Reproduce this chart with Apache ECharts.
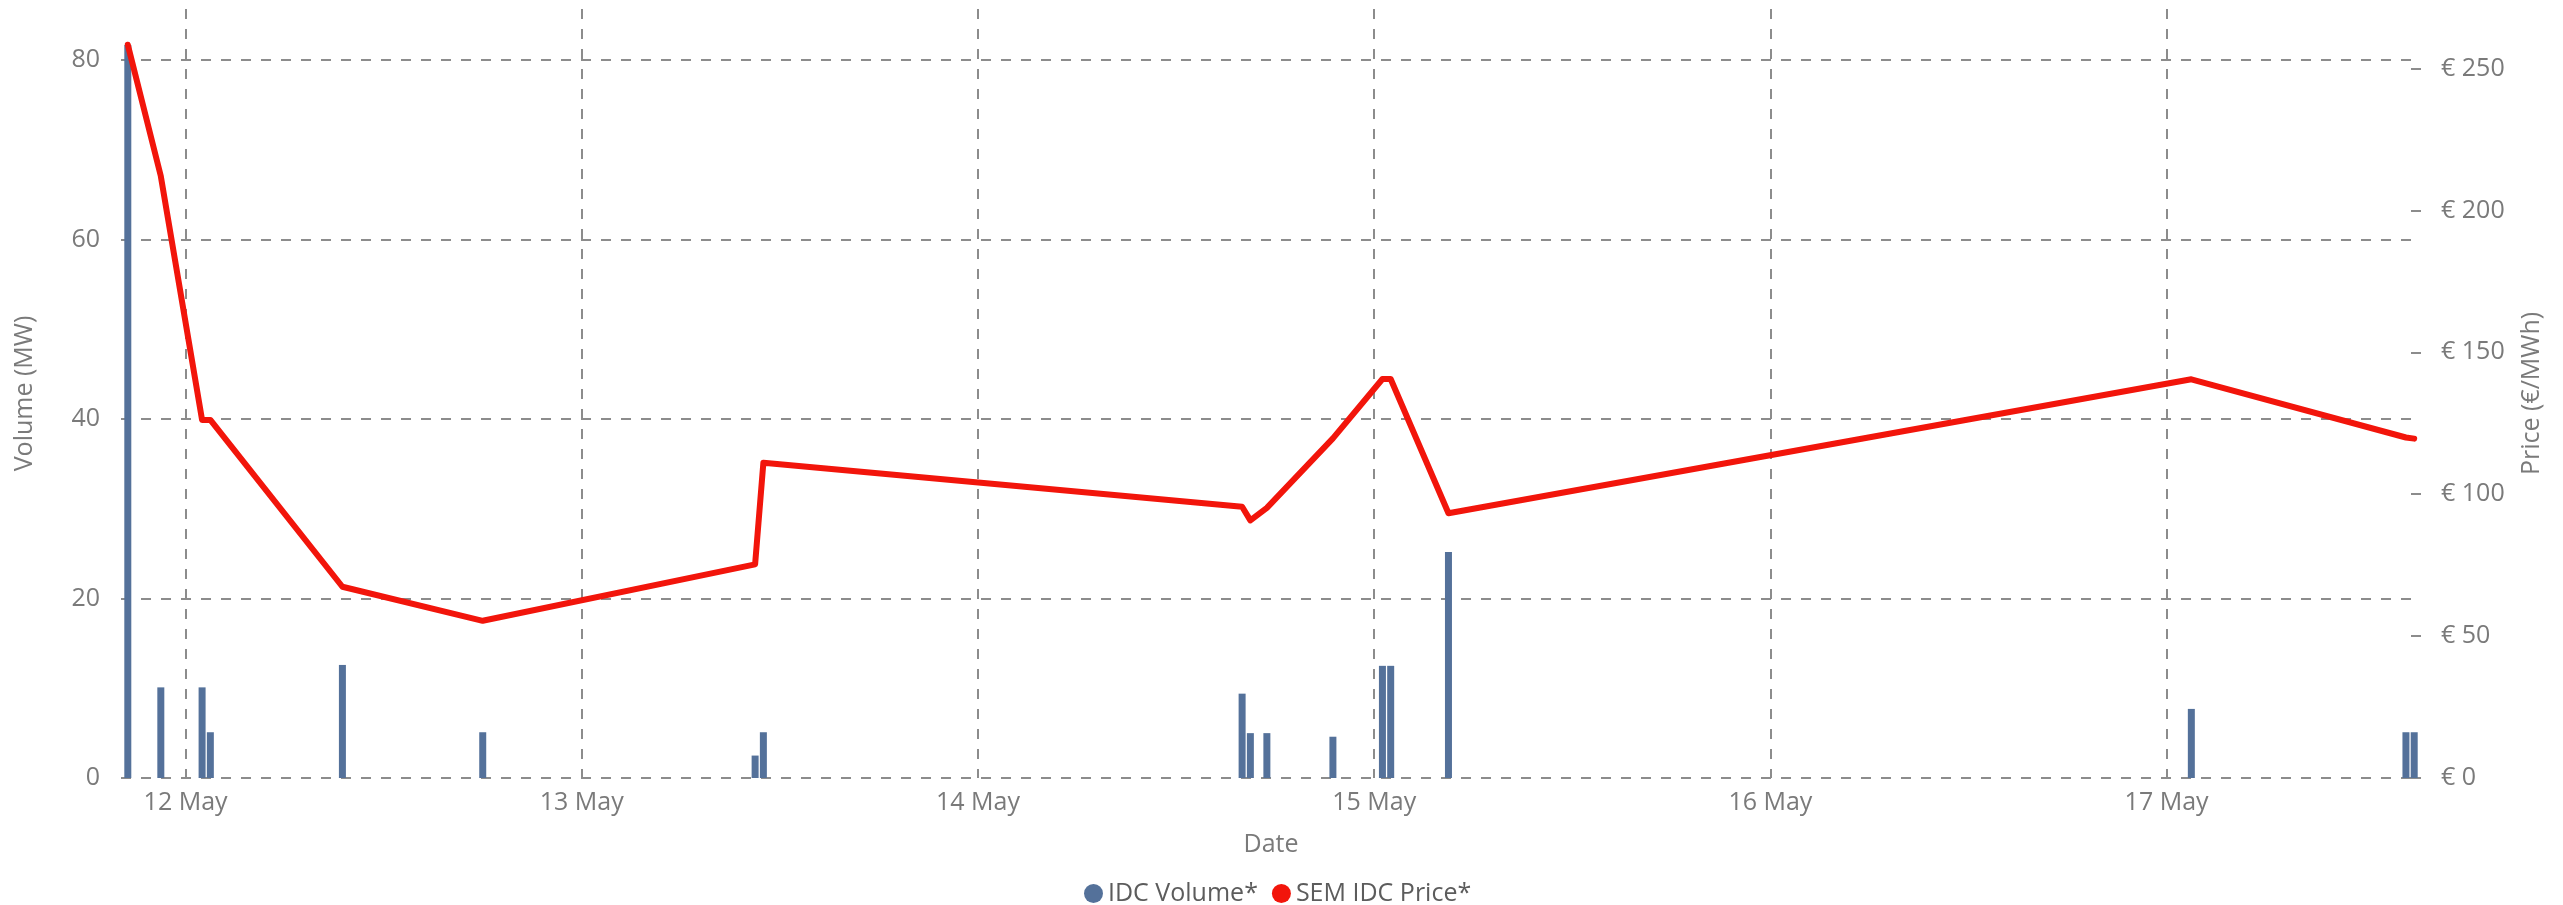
<!DOCTYPE html>
<html>
<head>
<meta charset="utf-8">
<script src="https://cdn.jsdelivr.net/npm/echarts@6/dist/echarts.min.js"></script>
<style>
  html, body { margin: 0; padding: 0; background: #fff; }
  #chart { width: 2563px; height: 905px; }
</style>
</head>
<body>
<div id="chart"></div>
<script>
// half-hourly trades
const times = [
  "2024-05-11 20:30", "2024-05-11 22:30", "2024-05-12 01:00", "2024-05-12 01:30",
  "2024-05-12 09:30", "2024-05-12 18:00", "2024-05-13 10:30", "2024-05-13 11:00",
  "2024-05-14 16:00", "2024-05-14 16:30", "2024-05-14 17:30", "2024-05-14 21:30",
  "2024-05-15 00:30", "2024-05-15 01:00", "2024-05-15 04:30", "2024-05-17 01:30",
  "2024-05-17 14:30", "2024-05-17 15:00"
];
const volume = [81.7, 10.1, 10.1, 5.1, 12.6, 5.1, 2.5, 5.1, 9.4, 5.0, 5.0, 4.6, 12.5, 12.5, 25.2, 7.7, 5.1, 5.1];
const price = [258.4, 212.1, 126.2, 126.2, 67.4, 55.4, 75.3, 111.1, 95.6, 90.8, 95.2, 119.7, 140.6, 140.6, 93.3, 140.5, 120.0, 119.6];

const volumeTicks = [0, 20, 40, 60, 80];
const priceTicks = [0, 50, 100, 150, 200, 250];
const months = ["Jan", "Feb", "Mar", "Apr", "May", "Jun", "Jul", "Aug", "Sep", "Oct", "Nov", "Dec"];
const DAY = 24 * 3600 * 1000;

const parseTime = (s) => {
  const [d, t] = s.split(" ");
  const [y, m, day] = d.split("-").map(Number);
  const [hh, mm] = (t || "00:00").split(":").map(Number);
  return new Date(y, m - 1, day, hh, mm).getTime();
};

const font = "'Open Sans', 'Noto Sans', sans-serif";
const grey = "#7a7a7a";
const dashed = { color: "#8c8c8c", width: 2, type: [10, 10] };

const chart = echarts.init(document.querySelector("#chart"));

const getOptionChart = () => {
  return {
    animation: false,
    textStyle: { fontFamily: font },
    grid: { left: 121, right: 142, top: 9, bottom: 127, containLabel: false },
    legend: {
      top: 876,
      left: 1079,
      icon: "circle",
      itemWidth: 19,
      itemHeight: 19,
      itemGap: 14,
      textStyle: { fontFamily: font, fontSize: 25, color: "#5c5c5c" },
      data: ["IDC Volume*", "SEM IDC Price*"]
    },
    xAxis: {
      type: "time",
      min: parseTime("2024-05-11 20:18"),
      max: parseTime("2024-05-17 15:12"),
      minInterval: DAY,
      maxInterval: DAY,
      name: "Date",
      nameLocation: "middle",
      nameGap: 54,
      nameTextStyle: { fontFamily: font, fontSize: 25, color: grey },
      axisLine: { show: false },
      axisTick: { show: false },
      axisLabel: {
        fontFamily: font,
        fontSize: 25,
        color: grey,
        margin: 12,
        formatter: (v) => {
          const d = new Date(v);
          return d.getDate() + " " + months[d.getMonth()];
        }
      },
      splitLine: { show: true, showMinLine: false, showMaxLine: false, lineStyle: dashed }
    },
    yAxis: [
      {
        type: "value",
        min: 0,
        max: 85.7,
        name: "Volume (MW)",
        nameLocation: "middle",
        nameRotate: 90,
        nameGap: 84,
        nameTextStyle: { fontFamily: font, fontSize: 25, color: grey },
        axisLine: { show: false },
        axisTick: { show: false, customValues: volumeTicks },
        axisLabel: { customValues: volumeTicks, fontFamily: font, fontSize: 25, color: grey, margin: 21 },
        splitLine: { show: true, lineStyle: dashed }
      },
      {
        type: "value",
        position: "right",
        min: 0,
        max: 271,
        name: "Price (€/MWh)",
        nameLocation: "middle",
        nameRotate: 90,
        nameGap: 98,
        nameTextStyle: { fontFamily: font, fontSize: 25, color: grey },
        axisLine: { show: false },
        axisTick: { show: true, inside: true, length: 10, customValues: priceTicks, lineStyle: { color: "#8c8c8c", width: 2 } },
        axisLabel: {
          customValues: priceTicks,
          fontFamily: font,
          fontSize: 25,
          color: grey,
          margin: 20,
          formatter: (v) => "€ " + v
        },
        splitLine: { show: false }
      }
    ],
    series: [
      {
        name: "IDC Volume*",
        type: "bar",
        yAxisIndex: 0,
        barWidth: 7,
        itemStyle: { color: "#54719a" },
        data: times.map((t, i) => [parseTime(t), volume[i]]),
        z: 2
      },
      {
        name: "SEM IDC Price*",
        type: "line",
        yAxisIndex: 1,
        symbol: "none",
        itemStyle: { color: "#f2150b" },
        lineStyle: { color: "#f2150b", width: 6, cap: "round", join: "round" },
        data: times.map((t, i) => [parseTime(t), price[i]]),
        z: 3
      }
    ]
  };
};

chart.setOption(getOptionChart());
</script>
</body>
</html>
